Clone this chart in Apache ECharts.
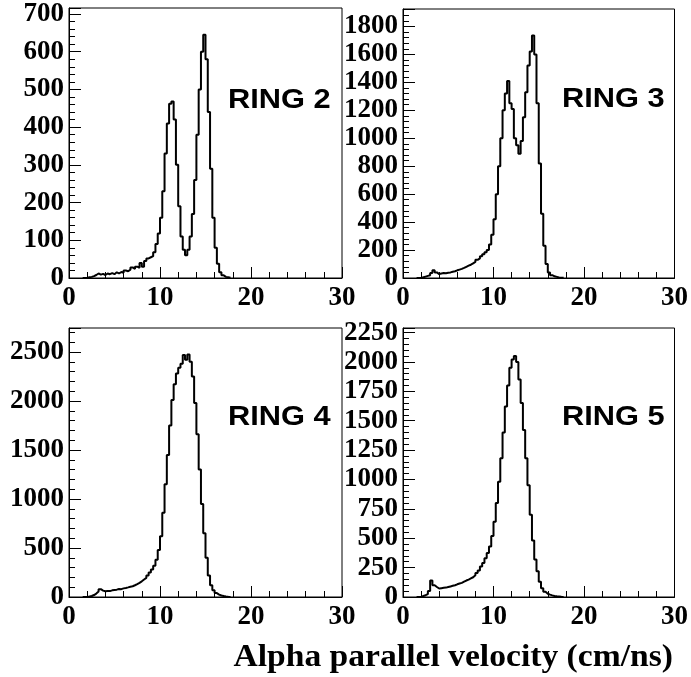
<!DOCTYPE html>
<html>
<head>
<meta charset="utf-8">
<script src="https://cdn.jsdelivr.net/npm/echarts@6/dist/echarts.min.js"></script>
<style>
html,body{margin:0;padding:0;background:#fff;}
#chart{width:691px;height:677px;}
</style>
</head>
<body>
<div id="chart"></div>
<script>
// Bin left edges (cm/ns), bin width 0.25
var binEdges = [1.5,1.75,
  2,2.25,2.5,2.75, 3,3.25,3.5,3.75, 4,4.25,4.5,4.75, 5,5.25,5.5,5.75,
  6,6.25,6.5,6.75, 7,7.25,7.5,7.75, 8,8.25,8.5,8.75, 9,9.25,9.5,9.75,
  10,10.25,10.5,10.75, 11,11.25,11.5,11.75, 12,12.25,12.5,12.75, 13,13.25,13.5,13.75,
  14,14.25,14.5,14.75, 15,15.25,15.5,15.75, 16,16.25,16.5,16.75, 17,17.25,17.5,17.75];

var ring2 = [0,0,
  2,3,5,8, 12,9,11,8, 12,10,13,10, 15,12,16,14,
  20,18,22,28, 24,30,27,40, 30,45,52,55, 58,68,90,118,
  160,230,330,410, 462,468,420,300, 190,110,75,60, 75,110,170,260,
  380,500,600,645, 580,440,290,160, 80,38,15,7, 3,2,1,0];

var ring3 = [0,2,
  5,10,15,20, 35,55,40,28, 32,36,34,38, 40,45,48,55,
  60,65,72,80, 88,95,105,115, 130,140,155,170, 185,200,240,310,
  420,600,800,1000, 1200,1320,1410,1250, 1210,1000,950,890, 980,1150,1330,1520,
  1620,1735,1600,1250, 820,460,230,100, 40,20,12,8, 4,2,1,0];

var ring4 = [0,2,
  5,10,20,35, 55,80,65,58, 62,60,68,72, 75,82,80,88,
  92,98,105,110, 120,132,145,160, 178,195,220,250, 280,320,380,480,
  620,860,1150,1450, 1750,2010,2170,2280, 2340,2380,2470,2420, 2475,2400,2250,1980,
  1660,1300,950,650, 400,220,120,70, 40,25,15,10, 6,3,1,0];

var ring5 = [0,3,
  8,15,25,50, 140,100,85,72, 75,78,80,85, 90,95,100,108,
  115,120,130,140, 148,158,168,185, 205,225,260,290, 330,375,430,520,
  640,800,980,1180, 1400,1620,1800,1950, 2020,2050,2000,1850, 1650,1420,1180,950,
  700,480,320,220, 130,75,45,28, 20,14,9,6, 4,2,1,0];

var panelLabels = ["RING 2", "RING 3", "RING 4", "RING 5"];
var xTicks = [0, 10, 20, 30];
var yMax = [716, 1925, 2745, 2289];
var yMajor = [100, 200, 500, 250];
var yMinor = [20, 40, 100, 50];
var xAxisTitle = "Alpha parallel velocity (cm/ns)";

var seriesData = [ring2, ring3, ring4, ring5];

var grids = [
  {left: 69, top: 8, width: 273, height: 270},
  {left: 403, top: 9, width: 273, height: 269},
  {left: 69, top: 328, width: 273, height: 269},
  {left: 403, top: 328, width: 273, height: 269}
];
var labelPos = [[228, 100], [562, 99], [228, 417], [562, 417]];

var labelFont = {color: '#000', fontFamily: 'Liberation Serif', fontWeight: 'bold', fontSize: 27};

var xAxes = [], yAxes = [], series = [], graphics = [];
grids.forEach(function (g, i) {
  g.show = true; g.borderColor = '#000'; g.borderWidth = 1; g.backgroundColor = '#fff';
  xAxes.push({
    type: 'value', gridIndex: i, min: 0, max: 30, interval: 10, position: 'bottom',
    axisLine: {show: true, onZero: false, lineStyle: {color: '#000', width: 1}},
    axisTick: {show: true, inside: true, length: 11, lineStyle: {color: '#000', width: 1}},
    splitLine: {show: false},
    axisLabel: Object.assign({margin: 7, formatter: function (v) { return xTicks.indexOf(v) >= 0 ? String(v) : ''; }}, labelFont)
  });
  xAxes.push({
    type: 'value', gridIndex: i, min: 0, max: 30, interval: 2, position: 'bottom',
    axisLine: {show: false},
    axisTick: {show: true, inside: true, length: 6, lineStyle: {color: '#000', width: 1}},
    splitLine: {show: false}, axisLabel: {show: false}
  });
  var maj = yMajor[i];
  yAxes.push({
    type: 'value', gridIndex: i, min: 0, max: yMax[i], interval: maj, position: 'left',
    axisLine: {show: true, onZero: false, lineStyle: {color: '#000', width: 1}},
    axisTick: {show: true, inside: true, length: 12, lineStyle: {color: '#000', width: 1}},
    splitLine: {show: false},
    axisLabel: Object.assign({margin: 5, formatter: (function (m) { return function (v) { return (v % m === 0) ? String(v) : ''; }; })(maj)}, labelFont)
  });
  yAxes.push({
    type: 'value', gridIndex: i, min: 0, max: yMax[i], interval: yMinor[i], position: 'left',
    axisLine: {show: false},
    axisTick: {show: true, inside: true, length: 6, lineStyle: {color: '#000', width: 1}},
    splitLine: {show: false}, axisLabel: {show: false}
  });
  var d = seriesData[i].map(function (v, k) { return [binEdges[k], v]; });
  series.push({
    type: 'line', xAxisIndex: 2 * i, yAxisIndex: 2 * i, data: d, step: 'end',
    showSymbol: false, symbol: 'none', animation: false, silent: true,
    lineStyle: {color: '#000', width: 2}, z: 5
  });
  graphics.push({
    type: 'text', x: labelPos[i][0], y: labelPos[i][1], scaleX: 1.1, z: 10,
    style: {text: panelLabels[i], font: 'bold 28px "Liberation Sans"', fill: '#000',
            textAlign: 'left', textVerticalAlign: 'middle'}
  });
});
graphics.push({
  type: 'text', x: 673, y: 658, scaleX: 1.05, z: 10,
  style: {text: xAxisTitle, font: 'bold 32px "Liberation Serif"', fill: '#000',
          textAlign: 'right', textVerticalAlign: 'middle'}
});

var chart = echarts.init(document.getElementById('chart'), null, {renderer: 'canvas'});
chart.setOption({
  animation: false,
  backgroundColor: '#fff',
  grid: grids,
  xAxis: xAxes,
  yAxis: yAxes,
  series: series,
  graphic: graphics
});
</script>
</body>
</html>
